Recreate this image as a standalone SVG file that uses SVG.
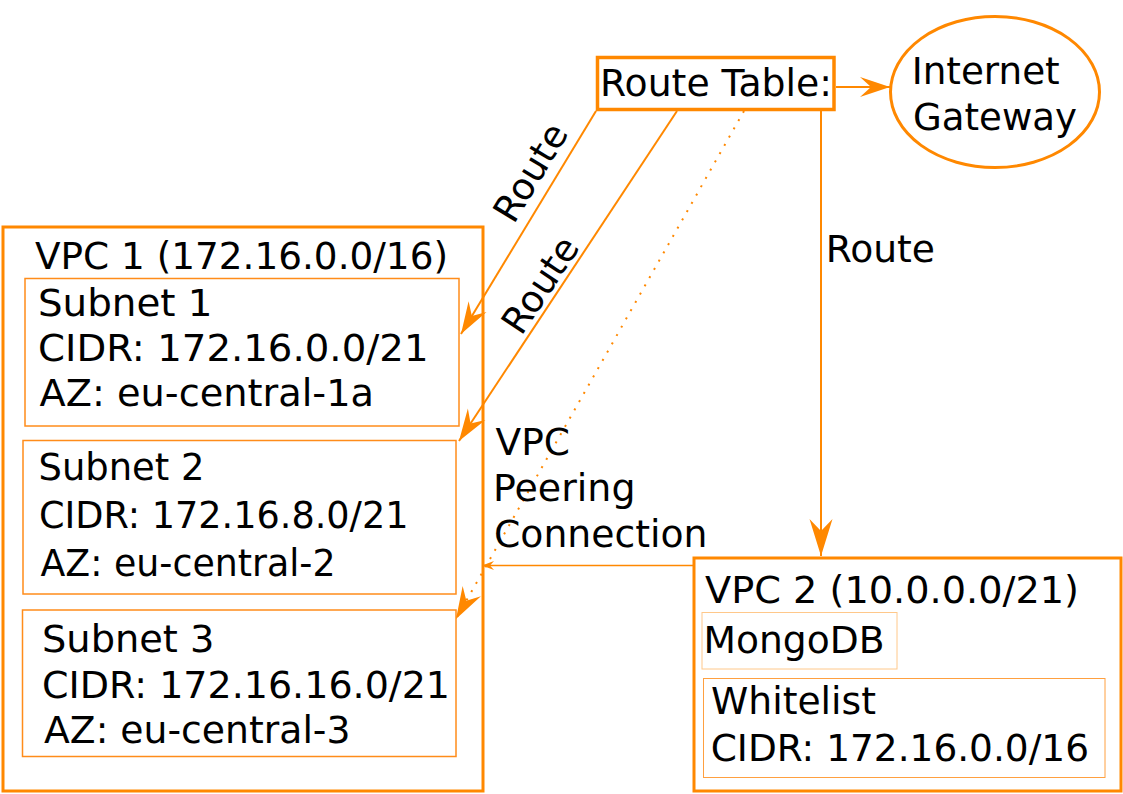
<svg xmlns="http://www.w3.org/2000/svg" width="1123" height="794" viewBox="0 0 1123 794">
<defs>
<style>
.t{font-family:"DejaVu Sans","Liberation Sans",sans-serif;font-size:37px;fill:#000}
.big{fill:#fff;stroke:#ff8800;stroke-width:3}
.sub{fill:none;stroke:#ff8c1a;stroke-width:1.5}
.c{fill:none;stroke:#ff8800;stroke-width:2}
.dot{fill:none;stroke:#ff8800;stroke-width:2;stroke-dasharray:2 7.5}
</style>
<marker id="a" markerUnits="userSpaceOnUse" viewBox="-34 -12 35 24" markerWidth="35" markerHeight="24" refX="0" refY="0" orient="auto"><path d="M0,0 L-32,-10.5 L-21,0 L-32,10.5 Z" fill="#ff8800"/></marker>
<marker id="aM" markerUnits="userSpaceOnUse" viewBox="-31 -11 32 22" markerWidth="32" markerHeight="22" refX="0" refY="0" orient="auto"><path d="M0,0 L-30,-10 L-19,0 L-30,10 Z" fill="#ff8800"/></marker>
<marker id="aL" markerUnits="userSpaceOnUse" viewBox="-38 -12 39 24" markerWidth="39" markerHeight="24" refX="0" refY="0" orient="auto"><path d="M0,0 L-37,-11.5 L-25,0 L-37,11.5 Z" fill="#ff8800"/></marker>
<marker id="aS" markerUnits="userSpaceOnUse" viewBox="-13 -6 14 12" markerWidth="14" markerHeight="12" refX="0" refY="0" orient="auto"><path d="M0,0 L-12,-4.5 L-8,0 L-12,4.5 Z" fill="#ff8800"/></marker>
</defs>
<rect width="1123" height="794" fill="#fff"/>

<g id="vpc1">
<rect class="big" x="3" y="227" width="480" height="564"/>
<text class="t" x="35" y="269" textLength="413" lengthAdjust="spacingAndGlyphs">VPC 1 (172.16.0.0/16)</text>
</g>
<g id="subnet1">
<rect class="sub" x="25" y="278.5" width="434" height="147.5"/>
<text class="t" x="38" y="316" textLength="174.5" lengthAdjust="spacingAndGlyphs">Subnet 1</text>
<text class="t" x="38" y="361" textLength="390.5" lengthAdjust="spacingAndGlyphs">CIDR: 172.16.0.0/21</text>
<text class="t" x="39.5" y="406" textLength="334.5" lengthAdjust="spacingAndGlyphs">AZ: eu-central-1a</text>
</g>
<g id="subnet2">
<rect class="sub" x="23" y="440.5" width="433" height="153.5"/>
<text class="t" x="38.5" y="480" textLength="166" lengthAdjust="spacingAndGlyphs">Subnet 2</text>
<text class="t" x="39" y="528" textLength="369.5" lengthAdjust="spacingAndGlyphs">CIDR: 172.16.8.0/21</text>
<text class="t" x="40.5" y="576" textLength="295" lengthAdjust="spacingAndGlyphs">AZ: eu-central-2</text>
</g>
<g id="subnet3">
<rect class="sub" x="22.5" y="610" width="433.5" height="146.5"/>
<text class="t" x="42" y="652" textLength="172.5" lengthAdjust="spacingAndGlyphs">Subnet 3</text>
<text class="t" x="42" y="698" textLength="408" lengthAdjust="spacingAndGlyphs">CIDR: 172.16.16.0/21</text>
<text class="t" x="44" y="743" textLength="306.5" lengthAdjust="spacingAndGlyphs">AZ: eu-central-3</text>
</g>

<g id="vpc2">
<rect class="big" x="694" y="558" width="427" height="233"/>
<text class="t" x="705" y="603" textLength="374" lengthAdjust="spacingAndGlyphs">VPC 2 (10.0.0.0/21)</text>
</g>
<g id="mongodb">
<rect x="702" y="612.5" width="195" height="56.5" fill="none" stroke="#ffc88a" stroke-width="1"/>
<text class="t" x="703.5" y="652.5" textLength="181" lengthAdjust="spacingAndGlyphs">MongoDB</text>
</g>
<g id="whitelist">
<rect x="703.5" y="678.5" width="401.5" height="99" fill="none" stroke="#ffa040" stroke-width="1"/>
<text class="t" x="711" y="714" textLength="165" lengthAdjust="spacingAndGlyphs">Whitelist</text>
<text class="t" x="710.7" y="761" textLength="378.3" lengthAdjust="spacingAndGlyphs">CIDR: 172.16.0.0/16</text>
</g>

<g id="routetable">
<rect x="597.5" y="57.5" width="236.5" height="52" fill="#fff" stroke="#ff8800" stroke-width="3.5"/>
<text class="t" x="600" y="95.5" textLength="232" lengthAdjust="spacingAndGlyphs">Route Table:</text>
</g>
<g id="igw">
<ellipse cx="995" cy="92" rx="104.5" ry="75.5" fill="#fff" stroke="#ff8800" stroke-width="3"/>
<text class="t" x="911.7" y="84.3" textLength="148" lengthAdjust="spacingAndGlyphs">Internet</text>
<text class="t" x="913" y="130" textLength="164" lengthAdjust="spacingAndGlyphs">Gateway</text>
</g>

<g id="connectors">
<path class="c" d="M836,87 L890,87" marker-end="url(#aM)"/>
<path class="c" d="M596,111 L461,334" marker-end="url(#a)"/>
<path class="c" d="M677,111 L459,441" marker-end="url(#a)"/>
<path class="dot" d="M744,111 L456,619" marker-end="url(#a)"/>
<path class="c" d="M821,111 L821,556" marker-end="url(#aL)"/>
<path d="M693,565.5 L482,565.5" fill="none" stroke="#ff8800" stroke-width="1.5" marker-end="url(#aS)"/>
<text class="t" text-anchor="middle" transform="translate(541.5,179) rotate(-58.8)">Route</text>
<text class="t" text-anchor="middle" transform="translate(551,292) rotate(-56.5)">Route</text>
<text class="t" x="825.7" y="262" textLength="109.3" lengthAdjust="spacingAndGlyphs">Route</text>
<text class="t" x="495.5" y="455" textLength="74.5" lengthAdjust="spacingAndGlyphs">VPC</text>
<text class="t" x="493" y="501" textLength="142.5" lengthAdjust="spacingAndGlyphs">Peering</text>
<text class="t" x="494" y="547" textLength="213.5" lengthAdjust="spacingAndGlyphs">Connection</text>
</g>
</svg>
